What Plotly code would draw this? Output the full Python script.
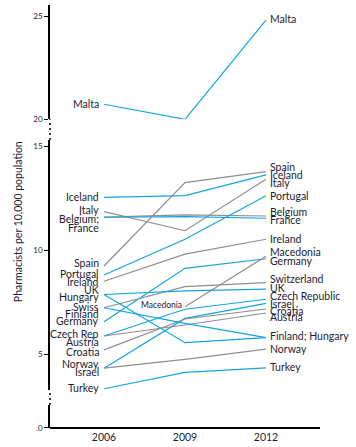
import plotly.graph_objects as go

years = [2006, 2009, 2012]

countries = ["Malta", "Iceland", "Italy", "Belgium", "France", "Spain", "Portugal",
             "Ireland", "Germany", "Macedonia", "Switzerland", "UK", "Czech Republic",
             "Israel", "Croatia", "Austria", "Hungary", "Finland", "Norway", "Turkey"]

values = {
    "Malta":          [20.73, 20.0, 24.82],
    "Iceland":        [12.56, 12.64, 13.64],
    "Italy":          [11.87, 10.95, 13.43],
    "Belgium":        [11.61, 11.71, 11.66],
    "France":         [11.60, 11.63, 11.55],
    "Spain":          [9.25, 13.27, 13.80],
    "Portugal":       [8.82, 10.54, 12.63],
    "Ireland":        [8.52, 9.82, 10.54],
    "Germany":        [6.57, 9.14, 9.60],
    "Macedonia":      [None, 7.29, 9.72],
    "Switzerland":    [7.24, 8.26, 8.45],
    "UK":             [7.88, 8.05, 8.14],
    "Czech Republic": [5.88, 7.17, 7.65],
    "Israel":         [4.33, 6.73, 7.45],
    "Croatia":        [5.21, 6.70, 7.18],
    "Austria":        [5.88, 6.41, 6.99],
    "Hungary":        [7.88, 5.56, 5.80],
    "Finland":        [7.24, 6.49, 5.80],
    "Norway":         [4.33, 4.76, 5.25],
    "Turkey":         [3.34, 4.13, 4.35],
}

grey_series = ["Italy", "Belgium", "Spain", "Ireland", "Macedonia", "Switzerland",
               "Croatia", "Austria", "Norway"]

# left-hand labels (text, label anchor value)
left_labels = [("Malta", 20.73), ("Iceland", 12.56), ("Italy", 11.94), ("Belgium;", 11.52),
               ("France", 11.08), ("Spain", 9.41), ("Portugal", 8.88), ("Ireland", 8.49),
               ("UK", 8.08), ("Hungary", 7.78), ("Swiss", 7.29), ("Finland", 6.92),
               ("Germany", 6.60), ("Czech Rep", 5.96), ("Austria", 5.57), ("Croatia", 5.09),
               ("Norway", 4.54), ("Israel", 4.13), ("Turkey", 3.39)]

right_labels = [("Malta", 24.88), ("Spain", 14.04), ("Iceland", 13.65), ("Italy", 13.27),
                ("Portugal", 12.64), ("Belgium", 11.84), ("France", 11.47), ("Ireland", 10.54),
                ("Macedonia", 9.94), ("Germany", 9.51), ("Switzerland", 8.61), ("UK", 8.19),
                ("Czech Republic", 7.82), ("Israel", 7.44), ("Croatia", 7.10), ("Austria", 6.78),
                ("Finland; Hungary", 5.88), ("Norway", 5.25), ("Turkey", 4.39)]

BLUE = "#12A4E2"
GREY = "#8E8E8E"
TXT = "#1c1c34"
FONT = "Lato"

fig = go.Figure()
for c in countries:
    ya = "y2" if c == "Malta" else "y"
    fig.add_trace(go.Scatter(
        x=years, y=values[c], mode="lines", yaxis=ya, name=c,
        line=dict(color=GREY if c in grey_series else BLUE, width=1.2),
        showlegend=False, hoverinfo="skip"))
# empty trace so that the bottom (zero) axis segment is drawn
fig.add_trace(go.Scatter(x=[], y=[], yaxis="y3", showlegend=False, hoverinfo="skip"))

ann = []
for t, v in left_labels:
    ann.append(dict(x=2006, y=v, xref="x", yref="y2" if v > 18 else "y", text=t,
                    showarrow=False, xanchor="right", yanchor="middle", xshift=-3,
                    font=dict(size=10.5, color=TXT, family=FONT)))
for t, v in right_labels:
    ann.append(dict(x=2012, y=v, xref="x", yref="y2" if v > 18 else "y", text=t,
                    showarrow=False, xanchor="left", yanchor="middle", xshift=2,
                    font=dict(size=10.5, color=TXT, family=FONT)))
ann.append(dict(x=2009, y=values["Macedonia"][1], xref="x", yref="y", text="Macedonia",
                showarrow=False, xanchor="right", yanchor="middle", xshift=-1, yshift=2,
                font=dict(size=8.5, color=TXT, family=FONT)))
ann.append(dict(x=-0.118, y=0.487, xref="paper", yref="paper",
                text="Pharmacists per 10,000 population", textangle=-90,
                showarrow=False, xanchor="center", yanchor="middle",
                font=dict(size=10.5, color=TXT, family=FONT)))

yax_common = dict(showgrid=False, zeroline=False, showline=True, linecolor="black",
                  linewidth=1.5, ticks="outside", ticklen=4, tickcolor="black",
                  tickfont=dict(size=8, color=TXT, family=FONT), anchor="x",
                  automargin=False)

shapes = []
for y0, y1 in [(0.0544, 0.0898), (0.6809, 0.7298)]:
    shapes.append(dict(type="line", xref="paper", yref="paper", x0=0, x1=0, y0=y0, y1=y1,
                       line=dict(color="black", width=1.5, dash="2px,3px")))

fig.update_layout(
    width=356, height=447,
    margin=dict(l=50, r=36, t=5, b=19),
    paper_bgcolor="white", plot_bgcolor="white",
    font=dict(family=FONT, color=TXT),
    xaxis=dict(range=[2004, 2014], tickvals=years, ticktext=[str(y) for y in years],
               showgrid=False, zeroline=False, showline=True, linecolor="black",
               linewidth=1.5, ticks="", anchor="free", position=0, automargin=False,
               tickfont=dict(size=10.5, color=TXT, family=FONT)),
    yaxis=dict(domain=[0.0898, 0.6809], range=[3.28, 15.32], tickvals=[5, 10, 15],
               **yax_common),
    yaxis2=dict(domain=[0.7298, 1.0], range=[20, 25.55], tickvals=[20, 25], **yax_common),
    yaxis3=dict(domain=[0, 0.0544], range=[0, 1.11], tickvals=[0], ticktext=[".0"],
                **yax_common),
    annotations=ann, shapes=shapes,
)

fig.write_html("out.html", config={"displayModeBar": False},
               post_script="document.body.style.margin='0';")
